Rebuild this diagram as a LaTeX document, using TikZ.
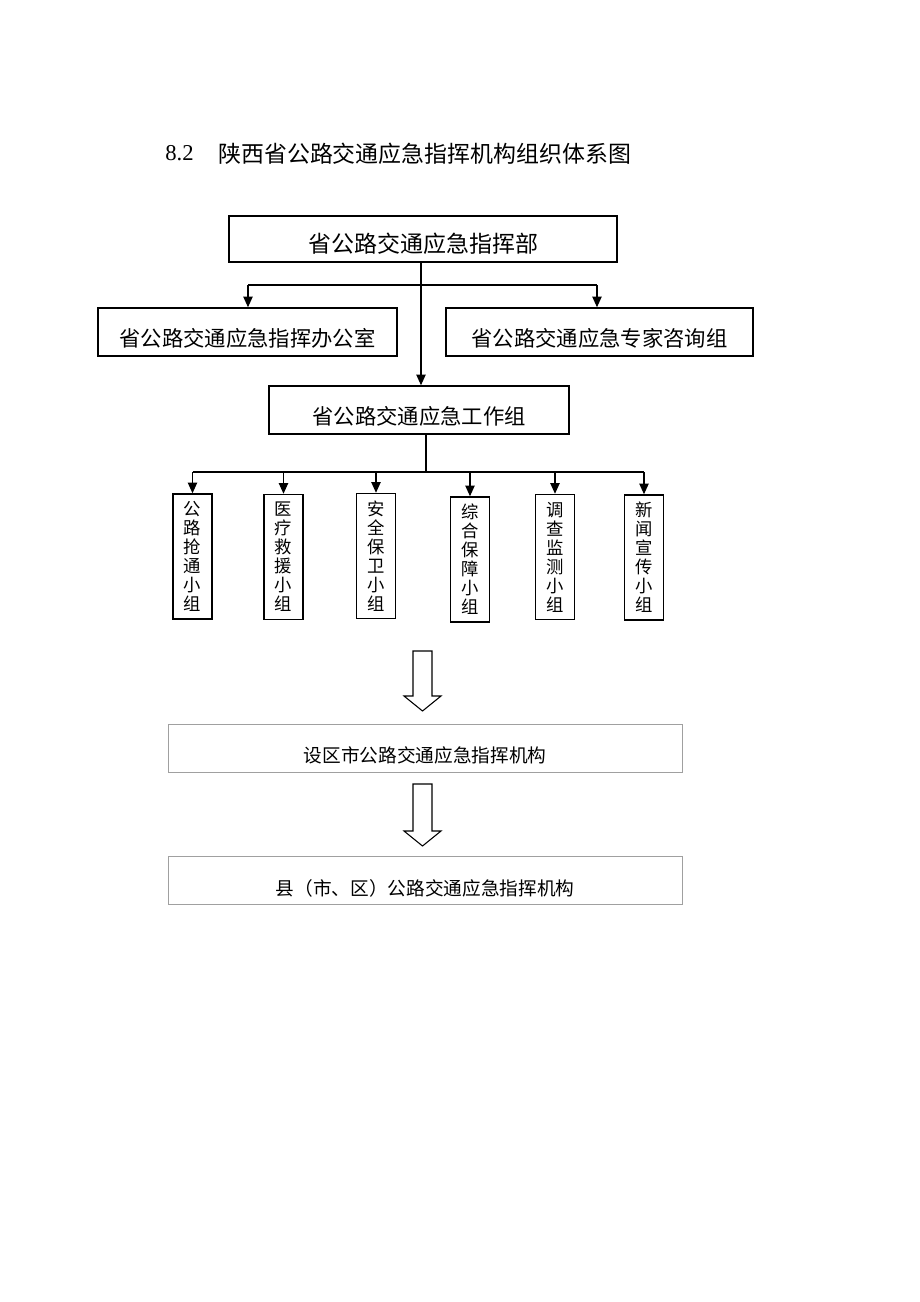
\documentclass[tikz,border=0pt]{standalone}
\usepackage{fontspec}
\setmainfont{Liberation Serif}
\newfontfamily\cjk{Noto Sans CJK SC}
\usetikzlibrary{arrows.meta,positioning,calc}
\definecolor{framegray}{RGB}{160,160,160}

\begin{document}
\begin{tikzpicture}[x=0.75pt,y=-0.75pt,
    mainbox/.style={draw=black, line width=1.1pt, inner sep=0pt, minimum height=36pt,
        text height=21.2pt, text depth=0pt, font=\cjk\fontsize{16}{16}\selectfont},
    groupbox/.style={draw=black, line width=1.1pt, inner sep=0pt, minimum width=29.25pt,
        minimum height=93.75pt, align=center, font=\cjk\fontsize{13}{14.25}\selectfont},
    levelbox/.style={draw=framegray, line width=0.7pt, inner sep=0pt, minimum width=385.5pt,
        minimum height=36pt, text height=21.8pt, text depth=0pt, font=\cjk\fontsize{14}{14}\selectfont},
    arr/.style={-{Triangle[length=8pt,width=7pt]}, line width=0.9pt},
    blockarr/.style={draw=black, line width=0.8pt, line join=miter}]
    \useasboundingbox (0,0) rectangle (920,1302);

    % Title
    \node[anchor=base west, inner sep=0pt, font=\fontsize{17}{17}\selectfont] (secnum) at (165,161) {8.2};
    \node[anchor=base west, inner sep=0pt, font=\cjk\fontsize{17.2}{17.2}\selectfont] (title) at (218,163) {陕西省公路交通应急指挥机构组织体系图};

    % Provincial command
    \node[mainbox, minimum width=291pt, minimum height=34.5pt, text height=19.9pt,
        font=\cjk\fontsize{17.25}{17.25}\selectfont] (cmd) at (423,239) {省公路交通应急指挥部};
    \node[mainbox, minimum width=224.25pt] (office) at (247.5,332) {省公路交通应急指挥办公室};
    \node[mainbox, minimum width=230.25pt] (expert) at (599.5,332) {省公路交通应急专家咨询组};
    \node[mainbox, minimum width=225pt] (wg) at (419,410) {省公路交通应急工作组};

    % Branches below command
    \coordinate (trunk) at (421,285);
    \coordinate (leftend) at (248,285);
    \coordinate (rightend) at (597,285);
    \draw[line width=0.8pt] (leftend) -- (rightend);
    \draw[arr] (cmd.south -| trunk) -- (wg.north -| trunk);
    \draw[arr] (leftend) -- (office.north -| leftend);
    \draw[arr] (rightend) -- (expert.north -| rightend);

    % Working groups
    \node[groupbox] (g1) at (192.5,556.5) {公\\路\\抢\\通\\小\\组};
    \node[groupbox] (g2) at (283.5,557) {医\\疗\\救\\援\\小\\组};
    \node[groupbox] (g3) at (376,556) {安\\全\\保\\卫\\小\\组};
    \node[groupbox] (g4) at (470,559.5) {综\\合\\保\\障\\小\\组};
    \node[groupbox] (g5) at (555,557) {调\\查\\监\\测\\小\\组};
    \node[groupbox] (g6) at (644,557.5) {新\\闻\\宣\\传\\小\\组};

    \coordinate (bus) at (426,472);
    \draw[line width=0.8pt] (wg.south -| bus) -- (bus);
    \draw[line width=0.8pt] (g1.north |- bus) -- (g6.north |- bus);
    \draw[arr] (g1.north |- bus) -- (g1.north);
    \draw[arr] (g2.north |- bus) -- (g2.north);
    \draw[arr] (g3.north |- bus) -- (g3.north);
    \draw[arr] (g4.north |- bus) -- (g4.north);
    \draw[arr] (g5.north |- bus) -- (g5.north);
    \draw[arr] (g6.north |- bus) -- (g6.north);

    % Lower levels
    \node[levelbox] (city) at (425,748) {设区市公路交通应急指挥机构};
    \node[levelbox] (county) at (425,880.5) {县（市、区）公路交通应急指挥机构};

    % Block arrows
    \draw[blockarr] (413,651) -- (432,651) -- (432,696) -- (441,696) -- (422.5,711)
        -- (404,696) -- (413,696) -- cycle;
    \draw[blockarr] (413,784) -- (432,784) -- (432,831) -- (441,831) -- (422.5,846)
        -- (404,831) -- (413,831) -- cycle;
\end{tikzpicture}
\end{document}
